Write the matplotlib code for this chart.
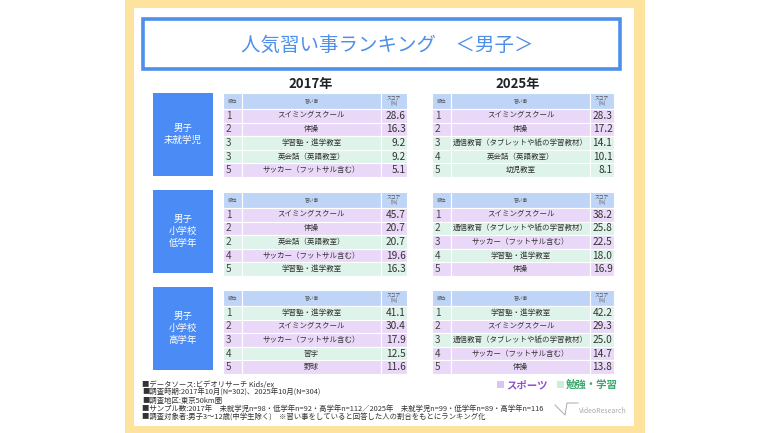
import matplotlib
matplotlib.use('Agg')
import matplotlib.pyplot as plt
from matplotlib.patches import Rectangle

plt.rcParams['font.family'] = ['Noto Sans CJK JP', 'DejaVu Sans']

# ---- data ----
title = '人気習い事ランキング　＜男子＞'
years = ['2017年', '2025年']
groups = ['男子\n未就学児', '男子\n小学校\n低学年', '男子\n小学校\n高学年']
header_labels = ['順位', '習い事', 'スコア\n(%)']

SWIM = 'スイミングスクール'
GYM = '体操'
JUKU = '学習塾・進学教室'
ENG = '英会話（英語教室）'
SOCCER = 'サッカー（フットサル含む）'
TSUSHIN = '通信教育（タブレットや紙の学習教材）'

# 2017
ranks_2017_pre = [1, 2, 3, 3, 5]
items_2017_pre = [SWIM, GYM, JUKU, ENG, SOCCER]
scores_2017_pre = [28.6, 16.3, 9.2, 9.2, 5.1]
types_2017_pre = ['S', 'S', 'L', 'L', 'S']

ranks_2017_low = [1, 2, 2, 4, 5]
items_2017_low = [SWIM, GYM, ENG, SOCCER, JUKU]
scores_2017_low = [45.7, 20.7, 20.7, 19.6, 16.3]
types_2017_low = ['S', 'S', 'L', 'S', 'L']

ranks_2017_high = [1, 2, 3, 4, 5]
items_2017_high = [JUKU, SWIM, SOCCER, '習字', '野球']
scores_2017_high = [41.1, 30.4, 17.9, 12.5, 11.6]
types_2017_high = ['L', 'S', 'S', 'L', 'S']

# 2025
ranks_2025_pre = [1, 2, 3, 4, 5]
items_2025_pre = [SWIM, GYM, TSUSHIN, ENG, '幼児教室']
scores_2025_pre = [28.3, 17.2, 14.1, 10.1, 8.1]
types_2025_pre = ['S', 'S', 'L', 'L', 'L']

ranks_2025_low = [1, 2, 3, 4, 5]
items_2025_low = [SWIM, TSUSHIN, SOCCER, JUKU, GYM]
scores_2025_low = [38.2, 25.8, 22.5, 18.0, 16.9]
types_2025_low = ['S', 'L', 'S', 'L', 'S']

ranks_2025_high = [1, 2, 3, 4, 5]
items_2025_high = [JUKU, SWIM, TSUSHIN, SOCCER, GYM]
scores_2025_high = [42.2, 29.3, 25.0, 14.7, 13.8]
types_2025_high = ['L', 'S', 'L', 'S', 'S']

legend_labels = ['スポーツ', '勉強・学習']

footer = [
    '■データソース:ビデオリサーチ Kids/ex',
    '■調査時期:2017年10月(N=302)、2025年10月(N=304)',
    '■調査地区:東京50km圏',
    '■サンプル数:2017年　未就学児n=98・低学年n=92・高学年n=112／2025年　未就学児n=99・低学年n=89・高学年n=116',
    '■調査対象者:男子3～12歳(中学生除く)　※習い事をしていると回答した人の割合をもとにランキング化',
]

# ---- colours ----
YELLOW = '#fee39f'
TITLE_BLUE = '#4d8fea'
BOX_BLUE = '#4b8bf5'
HEAD = '#bed5f7'
SPORT = '#ead8f8'
STUDY = '#def3e9'
TXT = '#333333'
colors = {'S': SPORT, 'L': STUDY}

fig = plt.figure(figsize=(7.7, 4.33), dpi=100)
ax = fig.add_axes([0, 0, 1, 1])
ax.set_xlim(0, 770)
ax.set_ylim(433, 0)
ax.axis('off')

# frame
ax.add_patch(Rectangle((125, 0), 520, 433, facecolor=YELLOW, edgecolor='none'))
ax.add_patch(Rectangle((134, 8), 500, 418, facecolor='white', edgecolor='none'))

# title
ax.add_patch(Rectangle((143, 19), 477, 50, facecolor='white', edgecolor=TITLE_BLUE, lw=2.6))
ax.text(387, 45, title, ha='center', va='center', fontsize=14, color=TITLE_BLUE)

# year headings
ax.text(311, 84, years[0], ha='center', va='center', fontsize=9.5, fontweight='bold', color='#222222')
ax.text(518, 84, years[1], ha='center', va='center', fontsize=9.5, fontweight='bold', color='#222222')

table_tops = [93, 192, 290]
box_tops = [93, 190, 287]
box_h = 83
header_h = 16
row_h = 13.6
cols_2017 = (223, 242, 381, 407)
cols_2025 = (432, 451, 590, 614)

tables = [
    [(ranks_2017_pre, items_2017_pre, scores_2017_pre, types_2017_pre),
     (ranks_2017_low, items_2017_low, scores_2017_low, types_2017_low),
     (ranks_2017_high, items_2017_high, scores_2017_high, types_2017_high)],
    [(ranks_2025_pre, items_2025_pre, scores_2025_pre, types_2025_pre),
     (ranks_2025_low, items_2025_low, scores_2025_low, types_2025_low),
     (ranks_2025_high, items_2025_high, scores_2025_high, types_2025_high)],
]


def draw_table(cols, top, ranks, items, scores, types):
    x0, x1, x2, x3 = cols
    # header row
    for a, b, lab in zip((x0, x1, x2), (x1, x2, x3), header_labels):
        ax.add_patch(Rectangle((a, top), b - a, header_h, facecolor=HEAD, edgecolor='white', lw=0.8))
        ax.text((a + b) / 2, top + header_h / 2, lab, ha='center', va='center',
                fontsize=3.4, color='#555555', linespacing=1.0)
    for i in range(len(ranks)):
        y = top + header_h + i * row_h
        c = colors[types[i]]
        for a, b in zip((x0, x1, x2), (x1, x2, x3)):
            ax.add_patch(Rectangle((a, y), b - a, row_h, facecolor=c, edgecolor='white', lw=0.8))
        yc = y + row_h / 2
        ax.text(x0 + 3, yc, str(ranks[i]), ha='left', va='center', fontsize=7.2, color='#444444')
        ax.text((x1 + x2) / 2, yc, items[i], ha='center', va='center', fontsize=5.4, color=TXT)
        ax.text(x3 - 1.5, yc, '%.1f' % scores[i], ha='right', va='center', fontsize=7.3, color=TXT)


for g in range(3):
    ax.add_patch(Rectangle((153, box_tops[g]), 60, box_h, facecolor=BOX_BLUE, edgecolor='none'))
    ax.text(183, box_tops[g] + box_h / 2, groups[g], ha='center', va='center',
            fontsize=6.8, color='white', linespacing=1.45)
    draw_table(cols_2017, table_tops[g], *tables[0][g])
    draw_table(cols_2025, table_tops[g], *tables[1][g])

# legend
ax.add_patch(Rectangle((497, 381), 7, 7, facecolor='#dcc4f2', edgecolor='none'))
ax.text(506, 385, legend_labels[0], ha='left', va='center', fontsize=7.5, fontweight='bold', color='#9050cc')
ax.add_patch(Rectangle((557, 381), 7, 7, facecolor='#caeedc', edgecolor='none'))
ax.text(566, 385, legend_labels[1], ha='left', va='center', fontsize=7.5, fontweight='bold', color='#3aa86c')

# footer notes
for i, line in enumerate(footer):
    ax.text(142, 385 + i * 8, line, ha='left', va='center', fontsize=5.3, color=TXT)

# logo
ax.plot([555, 565, 567, 578], [405, 415, 403, 403], color='#aaaaaa', lw=0.7)
ax.text(579, 411, 'VideoResearch', ha='left', va='center', fontsize=5, color='#aaaaaa')

fig.savefig('out.png', dpi=100)
